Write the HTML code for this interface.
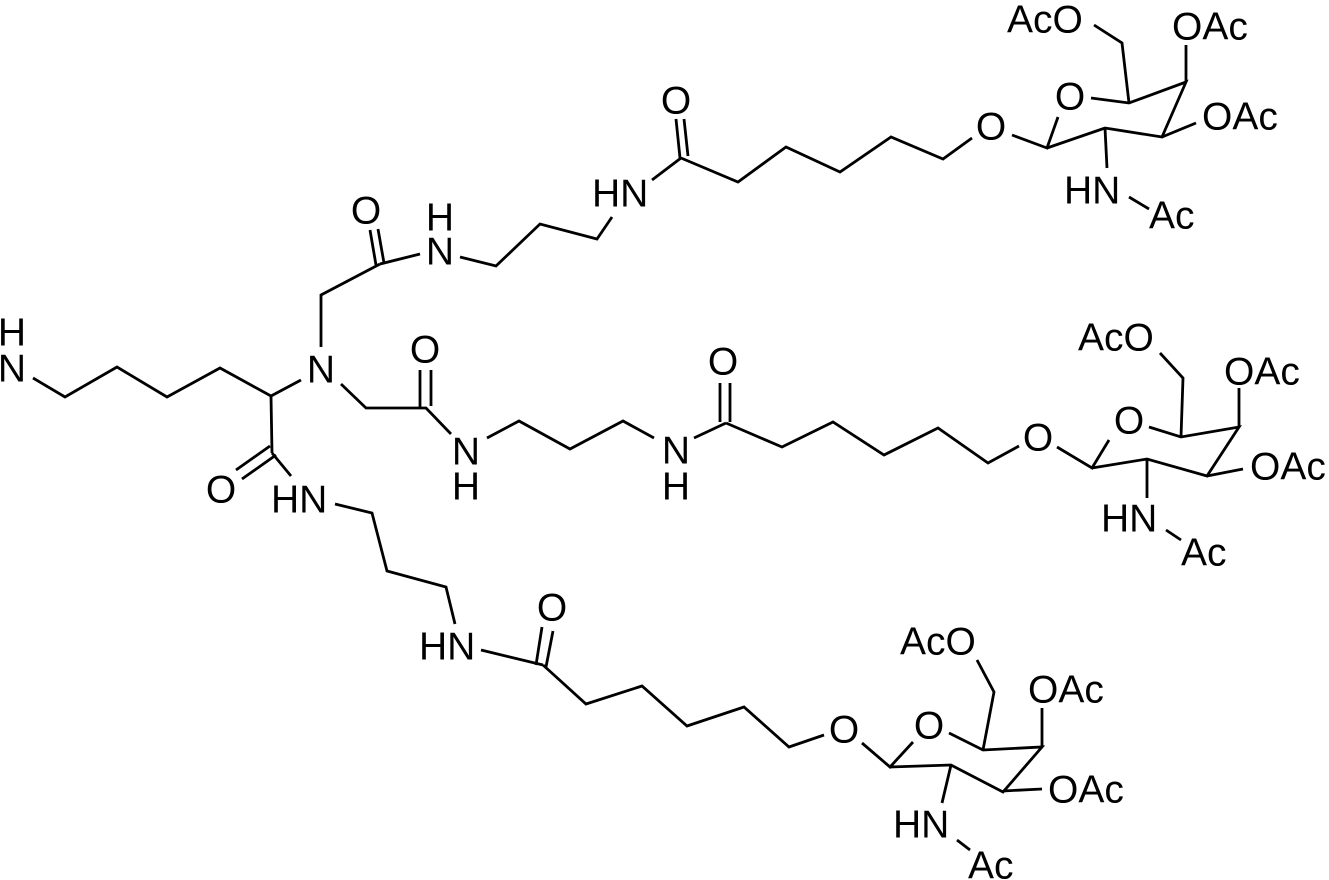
<!DOCTYPE html>
<html><head><meta charset="utf-8"><style>
html,body{margin:0;padding:0;background:#fff;}
svg{display:block;}
text{font-family:"Liberation Sans",Arial,sans-serif;font-size:39px;fill:#000;dominant-baseline:central;}
</style></head><body>
<svg width="1329" height="880" viewBox="0 0 1329 880" xmlns="http://www.w3.org/2000/svg">
<g stroke="#000" stroke-width="2.8" fill="none" stroke-linecap="butt" stroke-linejoin="miter">
<!-- lysine chain -->
<polyline points="33,378 65,397 117,367 167,397 220,368 271,396 301,380"/>
<line x1="271" y1="396" x2="272" y2="453"/>
<line x1="236" y1="470" x2="270" y2="446"/>
<line x1="242" y1="479" x2="276" y2="455"/>
<line x1="272" y1="453" x2="291" y2="476"/>
<!-- upper arm -->
<polyline points="321,347 321,295 380,264"/>
<line x1="370" y1="230" x2="376" y2="265"/>
<line x1="378" y1="229" x2="384" y2="263"/>
<line x1="380" y1="264" x2="420" y2="254"/>
<polyline points="460,257 496,266 540,224 597,239 612,217"/>
<!-- middle arm -->
<polyline points="341,384 366,408 426,408 451,434"/>
<line x1="420" y1="370" x2="420" y2="408"/>
<line x1="431" y1="370" x2="431" y2="406"/>
<polyline points="487,438 519,421 570,449 623,421 654,438"/>
<!-- lower arm -->
<polyline points="335,504 372,513 387,571 446,587 455,624"/>
<line x1="481" y1="650" x2="543" y2="665"/>
<line x1="536" y1="665" x2="542" y2="627"/>
<line x1="546" y1="667" x2="553" y2="631"/>
<polyline points="543,665 586,704 642,686 687,726 744,707 789,747 824,735"/>
<!-- bottom sugar -->
<polyline points="862,743 890,767 913,742"/>
<polyline points="949,733 983,750 1042,747 1003,792 951,765 890,767"/>
<polyline points="983,750 994,692 977,660"/>
<line x1="1042" y1="747" x2="1042" y2="708"/>
<line x1="1003" y1="791" x2="1042" y2="789"/>
<line x1="951" y1="765" x2="942" y2="803"/>
<line x1="957" y1="840" x2="970" y2="850"/>
<!-- middle chain + sugar -->
<line x1="694" y1="438" x2="726" y2="423"/>
<line x1="720" y1="383" x2="720" y2="422"/>
<line x1="730" y1="383" x2="730" y2="422"/>
<polyline points="726,423 782,447 833,422 884,455 938,428 988,463 1019,446"/>
<polyline points="1057,447 1092,468 1109,440"/>
<polyline points="1149,427 1181,437 1239,427 1207,476 1147,459 1092,468"/>
<polyline points="1181,437 1183,378 1160,353"/>
<line x1="1239" y1="427" x2="1239" y2="388"/>
<line x1="1207" y1="476" x2="1243" y2="469"/>
<line x1="1147" y1="459" x2="1147" y2="498"/>
<line x1="1166" y1="530" x2="1181" y2="540"/>
<!-- top chain + sugar -->
<line x1="652" y1="180" x2="681" y2="158"/>
<line x1="676" y1="119" x2="680" y2="158"/>
<line x1="684" y1="119" x2="688" y2="156"/>
<polyline points="681,158 738,182 786,147 840,172 891,137 943,159 972,138"/>
<polyline points="1012,135 1047,148 1058,117"/>
<polyline points="1091,98 1129,103 1186,82 1162,137 1105,128 1047,148"/>
<polyline points="1129,103 1122,43 1094,25"/>
<line x1="1186" y1="82" x2="1186" y2="45"/>
<line x1="1162" y1="137" x2="1196" y2="123"/>
<line x1="1105" y1="128" x2="1107" y2="168"/>
<line x1="1129" y1="197" x2="1149" y2="209"/>
</g>
<g>
<text x="12" y="333" text-anchor="middle">H</text>
<text x="12" y="369" text-anchor="middle">N</text>
<text x="321" y="370" text-anchor="middle">N</text>
<text x="221" y="490" text-anchor="middle">O</text>
<text x="271" y="500">HN</text>
<text x="366" y="211" text-anchor="middle">O</text>
<text x="440" y="218" text-anchor="middle">H</text>
<text x="440" y="252" text-anchor="middle">N</text>
<text x="592" y="194">HN</text>
<text x="425" y="350" text-anchor="middle">O</text>
<text x="466" y="452" text-anchor="middle">N</text>
<text x="466" y="487" text-anchor="middle">H</text>
<text x="676" y="451" text-anchor="middle">N</text>
<text x="676" y="487" text-anchor="middle">H</text>
<text x="419" y="647">HN</text>
<text x="552" y="608" text-anchor="middle">O</text>
<!-- bottom sugar -->
<text x="844" y="730" text-anchor="middle">O</text>
<text x="929" y="726" text-anchor="middle">O</text>
<text x="900" y="642">AcO</text>
<text x="1028" y="690">OAc</text>
<text x="1048" y="790">OAc</text>
<text x="893" y="825">HN</text>
<text x="968" y="866">Ac</text>
<!-- middle sugar -->
<text x="723" y="362" text-anchor="middle">O</text>
<text x="1038" y="438" text-anchor="middle">O</text>
<text x="1129" y="421" text-anchor="middle">O</text>
<text x="1078" y="338">AcO</text>
<text x="1224" y="372">OAc</text>
<text x="1250" y="467">OAc</text>
<text x="1101" y="519">HN</text>
<text x="1181" y="553">Ac</text>
<!-- top sugar -->
<text x="676" y="101" text-anchor="middle">O</text>
<text x="991" y="127" text-anchor="middle">O</text>
<text x="1070" y="97" text-anchor="middle">O</text>
<text x="1007" y="20">AcO</text>
<text x="1172" y="27">OAc</text>
<text x="1202" y="117">OAc</text>
<text x="1064" y="191">HN</text>
<text x="1149" y="216">Ac</text>
</g>
</svg>
</body></html>
